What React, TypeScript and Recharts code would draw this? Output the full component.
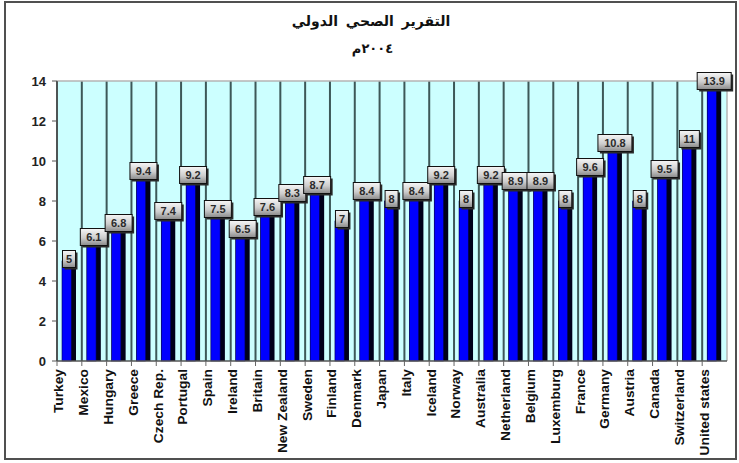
import { BarChart, Bar, XAxis, YAxis, CartesianGrid, LabelList } from "recharts";

/* ─── data ─── */
const countries = [
  "Turkey", "Mexico", "Hungary", "Greece", "Czech Rep.", "Portugal", "Spain", "Ireland", "Britain",
  "New Zealand", "Sweden", "Finland", "Denmark", "Japan", "Italy", "Iceland", "Norway", "Australia",
  "Netherland", "Belgium", "Luxemburg", "France", "Germany", "Austria", "Canada", "Switzerland", "United states",
];
const scores = [
  5, 6.1, 6.8, 9.4, 7.4, 9.2, 7.5, 6.5, 7.6,
  8.3, 8.7, 7, 8.4, 8, 8.4, 9.2, 8, 9.2,
  8.9, 8.9, 8, 9.6, 10.8, 8, 9.5, 11, 13.9,
];
const yTicks = [0, 2, 4, 6, 8, 10, 12, 14];
const title = "التقرير  الصحي الدولي";
const subtitle = "٢٠٠٤م";

const data = countries.map((name, i) => ({ name, score: scores[i] }));

const W = 739;
const H = 463;
const MARGIN = { top: 81, right: 12, bottom: 7, left: 0 };
const Y_W = 57;
const X_H = 95;
const BAND = (W - MARGIN.right - Y_W) / countries.length;
const FONT = '"Liberation Sans", Arial, sans-serif';

function ShadowBar(props: any) {
  const { x, y, width, height } = props;
  if (!height || height <= 0) return null;
  const face = width * 0.66;
  return (
    <g>
      <rect x={x} y={y} width={width} height={height} fill="#00001a" />
      <rect x={x} y={y} width={face} height={height} fill="#0000ff" stroke="#000055" strokeWidth={0.6} />
    </g>
  );
}

function ValueBox(props: any) {
  const { x, y, width, value } = props;
  const txt = String(value);
  const w = txt.length * 7 + 6;
  const h = 17;
  const cx = x + width / 2;
  const cy = y - 2;
  return (
    <g>
      <rect x={cx - w / 2 + 2} y={cy - h / 2 + 2} width={w} height={h} fill="#2a2a2a" />
      <rect x={cx - w / 2} y={cy - h / 2} width={w} height={h} fill="url(#boxGrad)" stroke="#111" strokeWidth={1} />
      <text x={cx} y={cy + 4} textAnchor="middle" fontSize={11} fontWeight="bold" fill="#2a2a2a" fontFamily={FONT}>
        {txt}
      </text>
    </g>
  );
}

function CountryTick(props: any) {
  const { x, y, payload } = props;
  const bx = x - BAND / 2;
  return (
    <g>
      <line x1={bx} y1={y - 8} x2={bx} y2={y - 3} stroke="#666" strokeWidth={1} />
      <text
        transform={`translate(${x - 6},${y}) rotate(-90) scale(1.06,1)`}
        textAnchor="end"
        fontSize={13}
        fontWeight="bold"
        fill="#111"
        fontFamily={FONT}
      >
        {payload.value}
      </text>
    </g>
  );
}

export default function App() {
  return (
    <div style={{ position: "absolute", left: 0, top: 0, width: W, height: H, background: "#fff" }}>
      <svg width={0} height={0} style={{ position: "absolute" }}>
        <defs>
          <linearGradient id="boxGrad" x1="0" y1="0" x2="0" y2="1">
            <stop offset="0%" stopColor="#f6f6f6" />
            <stop offset="55%" stopColor="#cdcdcd" />
            <stop offset="100%" stopColor="#8a8a8a" />
          </linearGradient>
        </defs>
      </svg>

      <div
        style={{
          position: "absolute", left: 4, top: 1, width: 733, height: 459,
          border: "2px solid #505050", boxSizing: "border-box",
        }}
      />

      <div dir="rtl" style={{ position: "absolute", left: 0, top: 13, width: 742, textAlign: "center",
        fontFamily: '"DejaVu Sans", sans-serif', fontWeight: "bold", fontSize: 14, color: "#111", wordSpacing: 3 }}>
        {title}
      </div>
      <div dir="rtl" style={{ position: "absolute", left: 0, top: 41, width: 745, textAlign: "center",
        fontFamily: '"DejaVu Sans", sans-serif', fontWeight: "bold", fontSize: 13, color: "#111", letterSpacing: 4 }}>
        {subtitle}
      </div>

      <div style={{ position: "absolute", left: 0, top: 0 }}>
        <BarChart width={W} height={H} data={data} margin={MARGIN} barSize={14}>
          <CartesianGrid
            horizontal={false}
            fill="#ccffff"
            fillOpacity={1}
            stroke="#3d5858"
            strokeWidth={2}
            verticalCoordinatesGenerator={({ offset }: any) =>
              countries.map((_, i) => offset.left + (i * offset.width) / countries.length)
            }
          />
          <CartesianGrid
            fill="none"
            stroke="#b4b4b4"
            strokeWidth={1.5}
            horizontalCoordinatesGenerator={({ offset }: any) => [offset.top]}
            verticalCoordinatesGenerator={({ offset }: any) => [offset.left + offset.width]}
          />
          <XAxis
            dataKey="name"
            interval={0}
            height={X_H}
            tickLine={false}
            axisLine={{ stroke: "#555", strokeWidth: 1.5 }}
            tick={<CountryTick />}
          />
          <YAxis
            width={Y_W}
            domain={[0, 14]}
            ticks={yTicks}
            interval={0}
            tickSize={5}
            tickMargin={6}
            axisLine={{ stroke: "#555", strokeWidth: 1.5 }}
            tickLine={{ stroke: "#555" }}
            tick={{ fontSize: 13, fontWeight: "bold", fill: "#222", fontFamily: FONT }}
          />
          <Bar dataKey="score" shape={<ShadowBar />} isAnimationActive={false}>
            <LabelList dataKey="score" content={<ValueBox />} />
          </Bar>
        </BarChart>
      </div>
    </div>
  );
}
